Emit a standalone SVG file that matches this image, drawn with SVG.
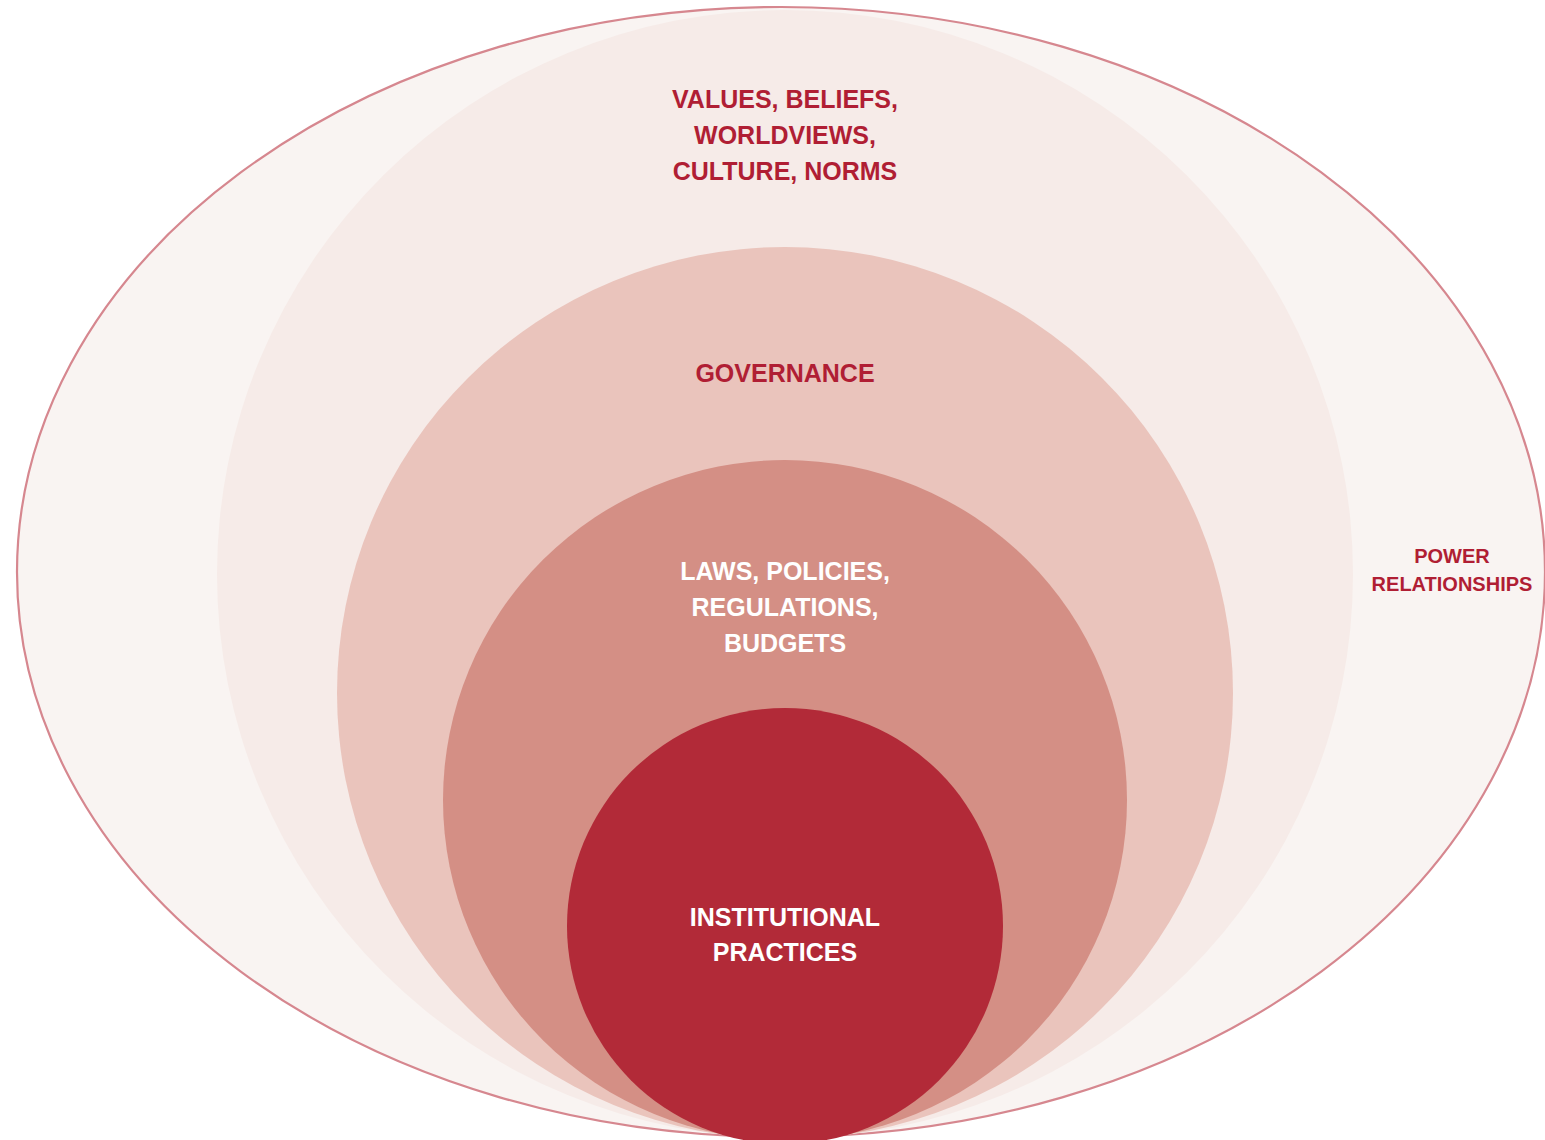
<svg xmlns="http://www.w3.org/2000/svg" width="1545" height="1140" viewBox="0 0 1545 1140">
<style>
.t{font-family:"Liberation Sans",Arial,sans-serif;font-weight:bold;text-anchor:middle}
.red{fill:#b01e34}
.white{fill:#ffffff}
</style>
<rect width="1545" height="1140" fill="#ffffff"/>
<g id="power">
<ellipse cx="781" cy="572" rx="764" ry="565" fill="#f9f4f2" stroke="#d6878f" stroke-width="2.2"/>
<text class="t red" font-size="20" x="1452" y="563">POWER</text>
<text class="t red" font-size="20" x="1452" y="591">RELATIONSHIPS</text>
</g>
<g id="values">
<ellipse cx="785" cy="574" rx="568" ry="564" fill="#f6ebe8"/>
<text class="t red" font-size="25" x="785" y="108">VALUES, BELIEFS,</text>
<text class="t red" font-size="25" x="785" y="144">WORLDVIEWS,</text>
<text class="t red" font-size="25" x="785" y="180">CULTURE, NORMS</text>
</g>
<g id="governance">
<ellipse cx="785" cy="693" rx="448" ry="446" fill="#eac4bc"/>
<text class="t red" font-size="25" x="785" y="382">GOVERNANCE</text>
</g>
<g id="laws">
<ellipse cx="785" cy="800" rx="342" ry="340" fill="#d48f85"/>
<text class="t white" font-size="25" x="785" y="580">LAWS, POLICIES,</text>
<text class="t white" font-size="25" x="785" y="616">REGULATIONS,</text>
<text class="t white" font-size="25" x="785" y="652">BUDGETS</text>
</g>
<g id="institutional">
<circle cx="785" cy="926" r="218" fill="#b22a38"/>
<text class="t white" font-size="25" x="785" y="926">INSTITUTIONAL</text>
<text class="t white" font-size="25" x="785" y="961">PRACTICES</text>
</g>
<g id="connectors"/>
</svg>
